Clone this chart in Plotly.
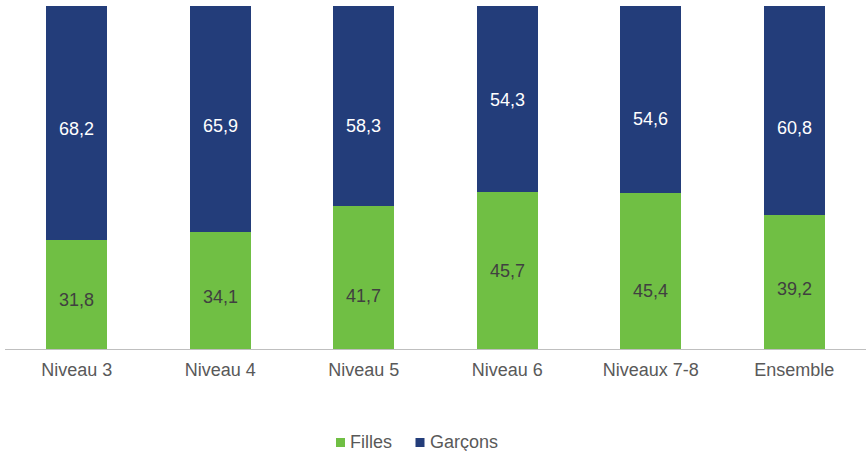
import plotly.graph_objects as go

categories = ["Niveau 3", "Niveau 4", "Niveau 5", "Niveau 6", "Niveaux 7-8", "Ensemble"]
filles = [31.8, 34.1, 41.7, 45.7, 45.4, 39.2]
garcons = [68.2, 65.9, 58.3, 54.3, 54.6, 60.8]
legend_labels = ["Filles", "Garçons"]
colors = ["#70BF44", "#233D7A"]

# label placement tweaks (pixels, style only) to mimic the reference label positions
shift_f = [-5.5, -6.5, -19, 0, -20, -7]
shift_g = [-6, -7, -20, -1, -19.5, -17.5]

FONT = "Liberation Sans, Arial, sans-serif"

def fmt(v):
    return f"{v:.1f}".replace(".", ",")

fig = go.Figure()
fig.add_trace(go.Bar(x=categories, y=filles, name=legend_labels[0], marker_color=colors[0],
                     marker_line_width=0, hoverinfo="skip"))
fig.add_trace(go.Bar(x=categories, y=garcons, name=legend_labels[1], marker_color=colors[1],
                     marker_line_width=0, hoverinfo="skip"))

for c, f, g, sf, sg in zip(categories, filles, garcons, shift_f, shift_g):
    fig.add_annotation(x=c, y=f / 2, text=fmt(f), showarrow=False, yshift=sf,
                       font=dict(size=18, color="#404040", family=FONT))
    fig.add_annotation(x=c, y=f + g / 2, text=fmt(g), showarrow=False, yshift=sg,
                       font=dict(size=18, color="#FFFFFF", family=FONT))

# manual legend (tight symbol/text spacing)
W, H_PLOT, L, T = 861, 343, 5, 6
def px_x(px):
    return (px - L) / W
def px_y(py):
    return (T + H_PLOT - py) / H_PLOT

leg_sq_centers = [340.5, 420.0]
leg_text_left = [348.0, 428.0]
for lab, col, sx, tx in zip(legend_labels, colors, leg_sq_centers, leg_text_left):
    fig.add_shape(type="rect", xref="paper", yref="paper",
                  xsizemode="pixel", ysizemode="pixel",
                  xanchor=px_x(sx), yanchor=px_y(442.5),
                  x0=-4.5, x1=4.5, y0=-4.5, y1=4.5,
                  fillcolor=col, line_width=0)
    fig.add_annotation(xref="paper", yref="paper", x=px_x(tx), y=px_y(441.5),
                       xanchor="left", yanchor="middle", text=lab, showarrow=False,
                       font=dict(size=18, color="#595959", family=FONT))

fig.update_layout(
    barmode="stack", bargap=0.575,
    width=866, height=451,
    margin=dict(l=L, r=0, t=T, b=451 - T - H_PLOT),
    plot_bgcolor="white", paper_bgcolor="white",
    font=dict(family=FONT, size=18, color="#595959"),
    showlegend=False,
    hovermode=False,
    xaxis=dict(showline=True, linecolor="#BFBFBF", linewidth=1, ticks="",
               tickfont=dict(size=18, color="#595959", family=FONT),
               ticklabelstandoff=4, fixedrange=True),
    yaxis=dict(range=[0, 100], visible=False, showgrid=False, fixedrange=True),
)
fig.write_html("out.html", config={"displayModeBar": False},
               post_script="document.body.style.margin='0px';")
